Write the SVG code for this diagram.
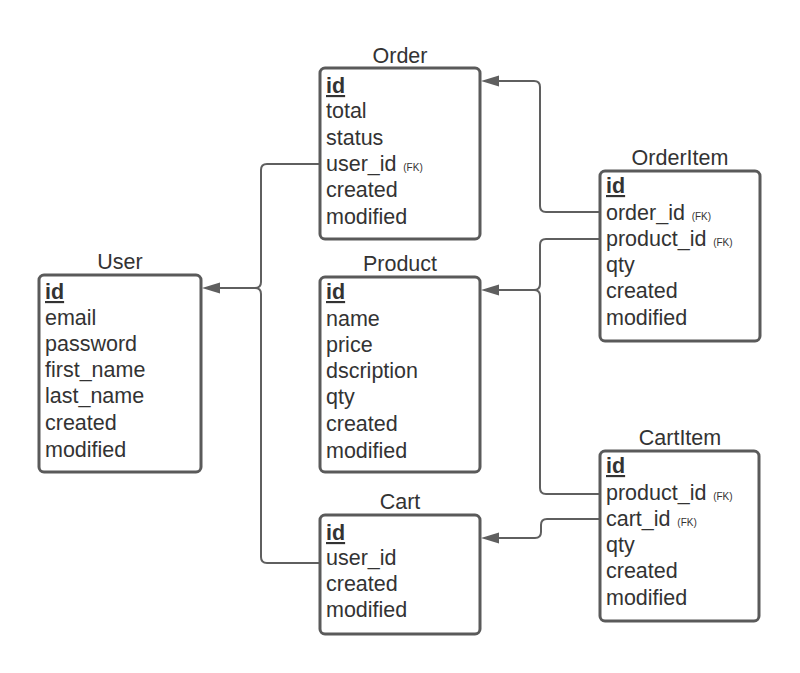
<svg xmlns="http://www.w3.org/2000/svg" width="800" height="673" viewBox="0 0 800 673">
<style>
.box{fill:#ffffff;stroke:#5a5a5a;stroke-width:3}
.t{font-family:"Liberation Sans",Arial,sans-serif;font-size:21.5px;fill:#333333}
.title{text-anchor:middle}
.pk{font-weight:bold;text-decoration:underline}
.fk{font-size:10px}
.conn{fill:none;stroke:#5f5f5f;stroke-width:2}
</style>
<defs>
<marker id="arr" markerUnits="userSpaceOnUse" markerWidth="20" markerHeight="14" viewBox="0 -7 20 14" refX="8" refY="0" orient="auto">
<path d="M0,-5.5 L18,0 L0,5.5 z" fill="#5f5f5f"/>
</marker>
</defs>
<rect width="800" height="673" fill="#ffffff"/>
<g id="connectors">
<path class="conn" d="M320,164 H267 Q261,164 261,170 V282 Q261,288 255,288 H212" marker-end="url(#arr)"/>
<path class="conn" d="M320,563 H267 Q261,563 261,557 V294 Q261,288 255,288"/>
<path class="conn" d="M599,212 H546 Q540,212 540,206 V87 Q540,81 534,81 H491" marker-end="url(#arr)"/>
<path class="conn" d="M599,239 H546 Q540,239 540,245 V284 Q540,290 534,290 H491" marker-end="url(#arr)"/>
<path class="conn" d="M600,494 H546 Q540,494 540,488 V296 Q540,290 534,290"/>
<path class="conn" d="M600,519 H547 Q541,519 541,525 V532 Q541,538 535,538 H491" marker-end="url(#arr)"/>
</g>
<g id="order">
<text class="t title" x="400" y="63">Order</text>
<rect class="box" x="320" y="68" width="160" height="171" rx="5"/>
<text class="t pk" x="326" y="93">id</text>
<text class="t" x="326" y="118">total</text>
<text class="t" x="326" y="145">status</text>
<text class="t" x="326" y="171">user_id<tspan class="fk" dx="4"> (FK)</tspan></text>
<text class="t" x="326" y="197">created</text>
<text class="t" x="326" y="224">modified</text>
</g>
<g id="user">
<text class="t title" x="120" y="269">User</text>
<rect class="box" x="39" y="275" width="162" height="197" rx="5"/>
<text class="t pk" x="45" y="299">id</text>
<text class="t" x="45" y="325">email</text>
<text class="t" x="45" y="351">password</text>
<text class="t" x="45" y="377">first_name</text>
<text class="t" x="45" y="403">last_name</text>
<text class="t" x="45" y="430">created</text>
<text class="t" x="45" y="457">modified</text>
</g>
<g id="product">
<text class="t title" x="400" y="271">Product</text>
<rect class="box" x="320" y="277" width="160" height="195" rx="5"/>
<text class="t pk" x="326" y="299">id</text>
<text class="t" x="326" y="326">name</text>
<text class="t" x="326" y="352">price</text>
<text class="t" x="326" y="378">dscription</text>
<text class="t" x="326" y="404">qty</text>
<text class="t" x="326" y="431">created</text>
<text class="t" x="326" y="458">modified</text>
</g>
<g id="cart">
<text class="t title" x="400" y="509">Cart</text>
<rect class="box" x="320" y="515" width="160" height="119" rx="5"/>
<text class="t pk" x="326" y="540">id</text>
<text class="t" x="326" y="565">user_id</text>
<text class="t" x="326" y="591">created</text>
<text class="t" x="326" y="617">modified</text>
</g>
<g id="orderitem">
<text class="t title" x="680" y="165">OrderItem</text>
<rect class="box" x="600" y="171" width="160" height="170" rx="5"/>
<text class="t pk" x="606" y="193">id</text>
<text class="t" x="606" y="220">order_id<tspan class="fk" dx="4"> (FK)</tspan></text>
<text class="t" x="606" y="246">product_id<tspan class="fk" dx="4"> (FK)</tspan></text>
<text class="t" x="606" y="272">qty</text>
<text class="t" x="606" y="298">created</text>
<text class="t" x="606" y="325">modified</text>
</g>
<g id="cartitem">
<text class="t title" x="680" y="445">CartItem</text>
<rect class="box" x="600" y="451" width="159" height="170" rx="5"/>
<text class="t pk" x="606" y="473">id</text>
<text class="t" x="606" y="500">product_id<tspan class="fk" dx="4"> (FK)</tspan></text>
<text class="t" x="606" y="526">cart_id<tspan class="fk" dx="4"> (FK)</tspan></text>
<text class="t" x="606" y="552">qty</text>
<text class="t" x="606" y="578">created</text>
<text class="t" x="606" y="605">modified</text>
</g>
</svg>
